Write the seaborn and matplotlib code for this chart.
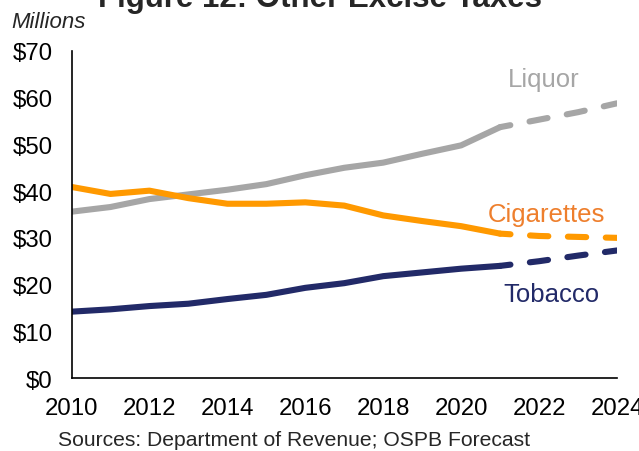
import matplotlib
matplotlib.use("Agg")
import matplotlib.pyplot as plt
import pandas as pd
import seaborn as sns

# Annual revenue, $ millions (actuals through 2021, forecast after)
years = list(range(2010, 2025))
liquor = [35.6, 36.6, 38.3, 39.3, 40.3, 41.5, 43.4, 45.0, 46.1, 48.0, 49.8, 53.7, 55.3, 56.9, 58.8]
cigarettes = [40.9, 39.4, 40.1, 38.5, 37.3, 37.3, 37.6, 36.9, 34.8, 33.6, 32.5, 30.9, 30.4, 30.2, 30.0]
tobacco = [14.2, 14.7, 15.4, 15.9, 16.9, 17.8, 19.3, 20.3, 21.8, 22.6, 23.4, 24.0, 25.0, 26.2, 27.3]
last_actual = 2021

series_names = ["Liquor", "Cigarettes", "Tobacco"]
line_colors = {"Liquor": "#A6A6A6", "Cigarettes": "#FF9900", "Tobacco": "#222A68"}
label_colors = {"Liquor": "#A6A6A6", "Cigarettes": "#EE7F2D", "Tobacco": "#222A68"}
y_ticks = [0, 10, 20, 30, 40, 50, 60, 70]
x_ticks = [2010, 2012, 2014, 2016, 2018, 2020, 2022, 2024]

sns.set_style("white")
plt.rcParams["font.family"] = ["Liberation Sans", "DejaVu Sans"]

df = pd.DataFrame({"year": years, "Liquor": liquor,
                   "Cigarettes": cigarettes, "Tobacco": tobacco})
long = df.melt(id_vars="year", var_name="tax", value_name="value")
actual = long[long["year"] <= last_actual]
forecast = long[long["year"] >= last_actual]

fig = plt.figure(figsize=(6.39, 4.52), dpi=100)
ax = fig.add_axes([0.1119, 0.1615, 0.8537, 0.7235])

lw = 4.4
for name in series_names:
    sns.lineplot(data=actual[actual["tax"] == name], x="year", y="value",
                 color=line_colors[name], linewidth=lw, ax=ax,
                 solid_capstyle="round", legend=False)
    sns.lineplot(data=forecast[forecast["tax"] == name], x="year", y="value",
                 color=line_colors[name], linewidth=lw, ax=ax,
                 dashes=False, legend=False)
    line = ax.lines[-1]
    line.set_linestyle((1.3, (3.0, 3.2)))
    line.set_dash_capstyle("round")

ax.set_xlim(2010, 2024)
ax.set_ylim(0, 70)
ax.set_yticks(y_ticks)
ax.set_yticklabels([f"${v}" for v in y_ticks])
ax.set_xticks(x_ticks)
ax.set_xticklabels([str(v) for v in x_ticks])
ax.set_xlabel("")
ax.set_ylabel("")

for side in ["top", "right"]:
    ax.spines[side].set_visible(False)
for side in ["left", "bottom"]:
    ax.spines[side].set_color("black")
    ax.spines[side].set_linewidth(1.2)
ax.tick_params(axis="both", direction="out", length=5.5, width=1.2,
               color="black", labelsize=17.3, labelcolor="black")
ax.tick_params(axis="y", pad=8)
ax.tick_params(axis="x", pad=8)

# Series labels next to the line ends
label_size = 18.5
ax.text(2022.12, 62.6, "Liquor", color=label_colors["Liquor"],
        fontsize=label_size, ha="center", va="baseline")
ax.text(2022.19, 33.7, "Cigarettes", color=label_colors["Cigarettes"],
        fontsize=label_size, ha="center", va="baseline")
ax.text(2022.32, 16.55, "Tobacco", color=label_colors["Tobacco"],
        fontsize=label_size, ha="center", va="baseline")

fig.text(0.500, 1 - 7 / 452, "Figure 12: Other Excise Taxes", fontsize=22.5,
         fontweight="bold", ha="center", va="baseline")
fig.text(11 / 639, 1 - 28 / 452, "Millions", fontsize=16, style="italic",
         ha="left", va="baseline")
fig.text(58 / 639, 1 - 446 / 452, "Sources: Department of Revenue; OSPB Forecast",
         fontsize=15.2, ha="left", va="baseline")

fig.savefig("out.png", dpi=100)
